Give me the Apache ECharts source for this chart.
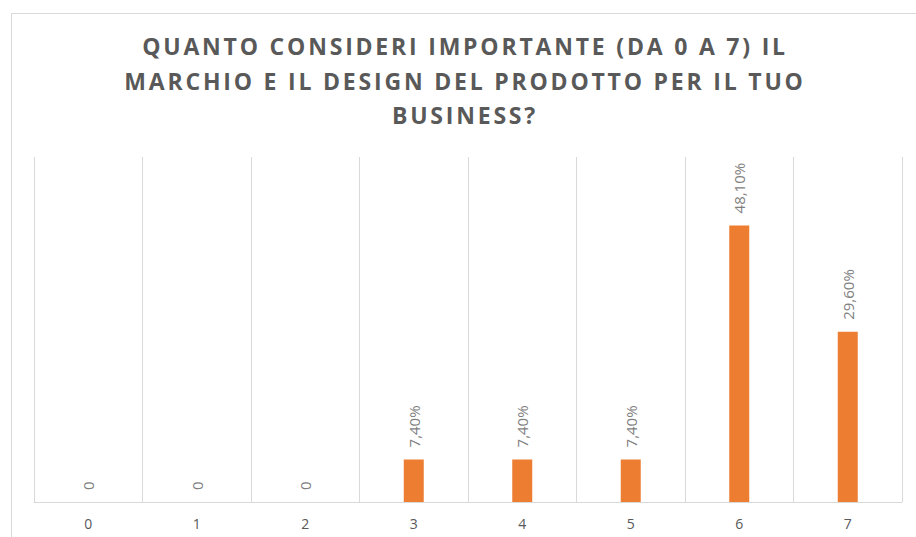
<!DOCTYPE html>
<html><head><meta charset="utf-8">
<script src="https://cdn.jsdelivr.net/npm/echarts@6/dist/echarts.min.js"></script>
<style>html,body{margin:0;padding:0;background:#fff}#c{width:916px;height:537px}
#frame{position:absolute;left:11px;top:13px;width:920px;height:540px;border:1px solid #d9d9d9;box-sizing:border-box;pointer-events:none}</style>
</head><body><div id="frame"></div><div id="c"></div>
<script>
const titleLines = ['QUANTO CONSIDERI IMPORTANTE (DA 0 A 7) IL', 'MARCHIO E IL DESIGN DEL PRODOTTO PER IL TUO', 'BUSINESS?'];
const categories = ['0','1','2','3','4','5','6','7'];
const values = [0, 0, 0, 7.4, 7.4, 7.4, 48.1, 29.6];

const chart = echarts.init(document.getElementById('c'), null, {renderer: 'svg'});
chart.setOption({
  animation: false,
  title: {
    text: titleLines.join('\n'), left: 460, top: 24, textAlign: 'center',
    textStyle: {fontFamily: 'Open Sans', fontWeight: 'bold', fontSize: 23, color: '#595959', lineHeight: 34.5}
  },
  grid: {left: 34, right: 14, top: 157, bottom: 35},
  xAxis: {
    type: 'category', data: categories, boundaryGap: true,
    axisLine: {lineStyle: {color: '#d9d9d9'}},
    axisTick: {show: false},
    axisLabel: {color: '#595959', fontSize: 14, fontFamily: 'Open Sans', margin: 14},
    splitLine: {show: true, lineStyle: {color: '#d9d9d9'}}
  },
  yAxis: {type: 'value', min: 0, max: 60, show: false, splitLine: {show: false}},
  series: [{
    type: 'bar', data: values, barWidth: 20,
    itemStyle: {color: '#ED7D31'},
    label: {
      show: true, position: 'top', rotate: 90, distance: 12,
      align: 'left', verticalAlign: 'middle',
      color: '#7f7f7f', fontSize: 15, fontFamily: 'Open Sans',
      formatter: p => p.value === 0 ? '0' : p.value.toFixed(2).replace('.', ',') + '%'
    }
  }]
});
function spaceTitle() {
  document.querySelectorAll('#c svg text, #c svg tspan').forEach(t => {
    if (titleLines.includes(t.textContent.trim())) t.style.letterSpacing = '2.8px';
  });
}
spaceTitle();
chart.on('finished', spaceTitle);
</script></body></html>
